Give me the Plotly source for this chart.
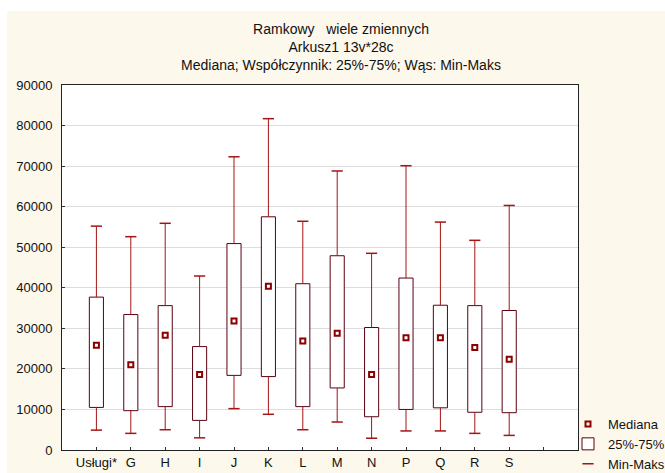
import plotly.graph_objects as go

categories = ["Usługi*", "G", "H", "I", "J", "K", "L", "M", "N", "P", "Q", "R", "S"]
minimum = [4900, 4100, 5000, 3000, 10200, 8800, 5000, 6900, 2900, 4700, 4700, 4100, 3600]
q1 = [10500, 9700, 10700, 7300, 18400, 18100, 10700, 15300, 8200, 10000, 10400, 9300, 9200]
median = [25800, 21000, 28300, 18600, 31800, 40400, 26900, 28800, 18600, 27700, 27700, 25300, 22400]
q3 = [37700, 33400, 35600, 25500, 50900, 57500, 41000, 47900, 30200, 42400, 35700, 35600, 34400]
maximum = [55200, 52600, 55900, 42900, 72300, 81700, 56400, 68800, 48500, 70100, 56200, 51700, 60300]
y_ticks = [0, 10000, 20000, 30000, 40000, 50000, 60000, 70000, 80000, 90000]

pos = list(range(len(categories)))
box_col = "#5a0010"
whisk_col = "#a31515"
med_col = "#8b0000"
cream = "#fdf8ec"
font = "Liberation Sans, Arial, sans-serif"

fig = go.Figure()

# boxes (25%-75%)
fig.add_trace(go.Bar(
    x=pos, y=[b - a for a, b in zip(q1, q3)], base=q1, width=0.41,
    marker=dict(color="white", line=dict(color=box_col, width=1)),
    name="25%-75%", legendrank=2, hoverinfo="skip",
))

# upper whiskers
fig.add_trace(go.Scatter(
    x=pos, y=q3, mode="markers", marker=dict(size=1, color="rgba(0,0,0,0)"),
    error_y=dict(type="data", symmetric=False, array=[b - a for a, b in zip(q3, maximum)],
                 arrayminus=[0] * len(pos), color=whisk_col, thickness=1, width=0),
    showlegend=False, hoverinfo="skip",
))
# lower whiskers
fig.add_trace(go.Scatter(
    x=pos, y=q1, mode="markers", marker=dict(size=1, color="rgba(0,0,0,0)"),
    error_y=dict(type="data", symmetric=False, array=[0] * len(pos),
                 arrayminus=[a - b for a, b in zip(q1, minimum)], color=whisk_col, thickness=1, width=0),
    showlegend=False, hoverinfo="skip",
))
# whisker caps
fig.add_trace(go.Scatter(
    x=pos + pos, y=maximum + minimum, mode="markers",
    marker=dict(symbol="line-ew", size=8, line=dict(color=whisk_col, width=1.5)),
    name="Min-Maks", legendrank=3, hoverinfo="skip",
))
# medians
fig.add_trace(go.Scatter(
    x=pos, y=median, mode="markers",
    marker=dict(symbol="square-open", size=5, color=med_col, line=dict(color=med_col, width=2)),
    name="Mediana", legendrank=1, hoverinfo="skip",
))

fig.update_layout(
    width=665, height=473,
    margin=dict(l=62, r=87, t=85, b=23, autoexpand=False),
    paper_bgcolor=cream, plot_bgcolor="white",
    font=dict(family=font, size=13, color="#111111"),
    title=dict(
        text="Ramkowy   wiele zmiennych<br>Arkusz1 13v*28c<br>Mediana; Współczynnik: 25%-75%; Wąs: Min-Maks",
        x=341 / 665, xanchor="center", y=1 - 34 / 473, yanchor="top", yref="container",
        font=dict(family=font, size=14, color="#111111"),
    ),
    showlegend=True,
    legend=dict(x=(568 - 62) / 516, xanchor="left", y=-29 / 365, yanchor="bottom",
                bgcolor="rgba(0,0,0,0)",
                font=dict(family=font, size=13, color="#111111"), tracegroupgap=0,
                itemwidth=30),
    xaxis=dict(
        range=[-1, 14], tickmode="array", tickvals=pos + [len(pos)],
        ticktext=categories + [""], ticks="inside", ticklen=3, tickcolor="#333333",
        showgrid=False, zeroline=False, showline=True, linecolor="#222222", linewidth=1,
        mirror=True, tickfont=dict(family=font, size=13, color="#111111"),
    ),
    yaxis=dict(
        range=[0, 90000], tickmode="array", tickvals=y_ticks,
        ticktext=[str(v) for v in y_ticks], ticks="inside", ticklen=3, tickcolor="#333333",
        showgrid=True, gridcolor="#dddddd", gridwidth=1, zeroline=False,
        showline=True, linecolor="#222222", linewidth=1, mirror=True,
        tickfont=dict(family=font, size=13, color="#111111"), ticklabelstandoff=6,
    ),
    shapes=[
        dict(type="rect", xref="paper", yref="paper", layer="below",
             x0=-0.2, x1=1.3, y0=1 + 74 / 365, y1=1.4, fillcolor="white", line=dict(width=0)),
        dict(type="rect", xref="paper", yref="paper", layer="below",
             x0=-0.2, x1=-55 / 516, y0=-0.2, y1=1.4, fillcolor="white", line=dict(width=0)),
    ],
)

fig.write_html("out.html")
